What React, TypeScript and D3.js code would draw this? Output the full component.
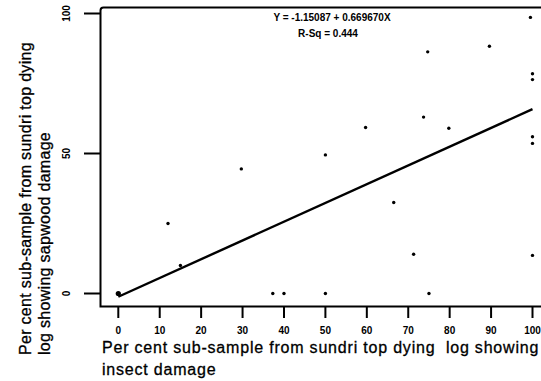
import React from "react";
import * as d3 from "d3";

const xValues = [0, 12, 15, 29.7, 37.3, 40, 50, 50, 59.7, 66.5, 71.3, 75, 79.8, 73.7, 74.7, 89.6, 99.5, 100, 100, 100, 100, 100];
const yValues = [0, 25, 10, 44.5, 0, 0, 49.5, 0, 59.3, 32.5, 14, 0, 59, 63, 86.3, 88.3, 98.6, 78.5, 76.4, 56, 53.6, 13.6];
const xTicks = [0, 10, 20, 30, 40, 50, 60, 70, 80, 90, 100];
const yTicks = [0, 50, 100];
const intercept = -1.15087;
const slope = 0.66967;
const eqText = "Y = -1.15087 + 0.669670X";
const rsqText = "R-Sq = 0.444";
const xTitle1 = "Per cent sub-sample from sundri top dying  log showing";
const xTitle2 = "insect damage";
const yTitle1 = "Per cent sub-sample from sundri top dying";
const yTitle2 = "log showing sapwood damage";

export default function App() {
  const W = 541, H = 381;
  const x = d3.scaleLinear().domain([0, 100]).range([118.3, 532.5]);
  const y = d3.scaleLinear().domain([0, 100]).range([293.5, 13.5]);
  const axisLeft = 100.5, axisBottom = 306.5, axisTop = 7.5;
  const line = d3.line<number>().x((d) => x(d)).y((d) => y(intercept + slope * d));
  const font = "'Liberation Sans', Arial, sans-serif";
  const pts = xValues.map((v, i) => [v, yValues[i]]);
  const xTitleStyle = { whiteSpace: "pre" as const, letterSpacing: "0.8px" };
  const yTitleStyle = { whiteSpace: "pre" as const, letterSpacing: "0.3px" };
  return (
    <div style={{ position: "fixed", left: 0, top: 0 }}>
      <svg width={W} height={H} style={{ display: "block", background: "#fff" }}>
        {/* frame */}
        <path d={`M${W},${axisTop} L${axisLeft + 3},${axisTop} Q${axisLeft},${axisTop} ${axisLeft},${axisTop + 3} L${axisLeft},${axisBottom} L${W},${axisBottom}`} fill="none" stroke="#000" strokeWidth={2} />
        {/* x ticks */}
        {xTicks.map((t) => (
          <g key={"xt" + t}>
            <line x1={x(t)} x2={x(t)} y1={axisBottom} y2={318} stroke="#000" strokeWidth={2} />
            <text x={x(t)} y={334} textAnchor="middle" fontFamily={font} fontSize={10} fontWeight="bold">{t}</text>
          </g>
        ))}
        {/* y ticks */}
        {yTicks.map((t) => (
          <g key={"yt" + t}>
            <line x1={84} x2={axisLeft} y1={y(t)} y2={y(t)} stroke="#000" strokeWidth={2} />
            <text transform={`translate(70,${y(t)}) rotate(-90)`} textAnchor="middle" fontFamily={font} fontSize={10} fontWeight="bold">{t}</text>
          </g>
        ))}
        {/* regression line */}
        <path d={line([0, 100]) || ""} fill="none" stroke="#000" strokeWidth={2.4} />
        {/* points */}
        {pts.map((p, i) => (
          <circle key={"p" + i} cx={x(p[0])} cy={y(p[1])} r={i === 0 ? 2.6 : 1.7} fill="#000" />
        ))}
        {/* equation */}
        <text x={332} y={21} textAnchor="middle" fontFamily={font} fontSize={10} fontWeight="bold">{eqText}</text>
        <text x={328} y={37} textAnchor="middle" fontFamily={font} fontSize={10} fontWeight="bold">{rsqText}</text>
        {/* x title */}
        <text x={102} y={353} fontFamily={font} fontSize={16} fill="#000" stroke="#000" strokeWidth={0.3} style={xTitleStyle}>{xTitle1}</text>
        <text x={102} y={375} fontFamily={font} fontSize={16} fill="#000" stroke="#000" strokeWidth={0.3} style={xTitleStyle}>{xTitle2}</text>
        {/* y title */}
        <text transform="translate(31,355) rotate(-90)" fontFamily={font} fontSize={16} fill="#000" stroke="#000" strokeWidth={0.3} style={yTitleStyle}>{yTitle1}</text>
        <text transform="translate(50,355) rotate(-90)" fontFamily={font} fontSize={16} fill="#000" stroke="#000" strokeWidth={0.3} style={yTitleStyle}>{yTitle2}</text>
      </svg>
    </div>
  );
}
